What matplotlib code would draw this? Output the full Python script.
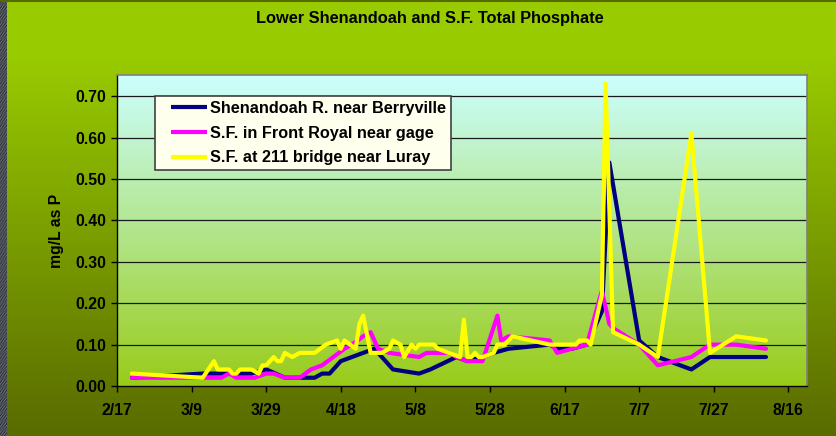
import numpy as np
import matplotlib
matplotlib.use("Agg")
import matplotlib.pyplot as plt
from matplotlib.legend_handler import HandlerLine2D
from datetime import datetime

YEAR = 2006

berry_dates = ["2/21", "3/12", "3/19", "3/22", "3/25", "3/29", "4/3", "4/11", "4/13", "4/15",
               "4/18", "4/21", "4/27", "5/2", "5/9", "5/12", "5/19", "5/22", "5/26", "5/29",
               "6/2", "6/13", "6/15", "6/19", "6/23", "6/27", "6/29", "7/7", "7/12", "7/21",
               "7/26", "8/10"]
berry_vals = [0.02, 0.03, 0.03, 0.03, 0.03, 0.04, 0.02, 0.02, 0.03, 0.03,
              0.06, 0.07, 0.09, 0.04, 0.03, 0.04, 0.07, 0.06, 0.07, 0.08,
              0.09, 0.10, 0.09, 0.09, 0.10, 0.18, 0.54, 0.11, 0.07, 0.04,
              0.07, 0.07]

front_dates = ["2/21", "3/17", "3/19", "3/21", "3/26", "3/29", "3/31", "4/3", "4/7", "4/10",
               "4/13", "4/16", "4/19", "4/21", "4/24", "4/26", "4/28", "5/1", "5/9", "5/11",
               "5/17", "5/19", "5/22", "5/26", "5/30", "5/31", "6/2", "6/13", "6/15", "6/19",
               "6/23", "6/27", "6/29", "6/30", "7/7", "7/12", "7/21", "7/26", "8/2", "8/10"]
front_vals = [0.02, 0.02, 0.03, 0.02, 0.02, 0.03, 0.03, 0.02, 0.02, 0.04,
              0.05, 0.07, 0.09, 0.10, 0.12, 0.13, 0.09, 0.08, 0.07, 0.08,
              0.08, 0.07, 0.06, 0.06, 0.17, 0.11, 0.12, 0.11, 0.08, 0.09,
              0.10, 0.23, 0.15, 0.14, 0.10, 0.05, 0.07, 0.10, 0.10, 0.09]

luray_dates = ["2/21", "3/12", "3/15", "3/16", "3/19", "3/20", "3/21", "3/22", "3/25", "3/27",
               "3/28", "3/29", "3/31", "4/1", "4/2", "4/3", "4/5", "4/7", "4/11", "4/14",
               "4/17", "4/18", "4/19", "4/22", "4/23", "4/24", "4/26", "4/29", "5/1", "5/2",
               "5/4", "5/5", "5/7", "5/8", "5/9", "5/13", "5/14", "5/17", "5/20", "5/21",
               "5/22", "5/23", "5/24", "5/25", "5/26", "5/29", "5/30", "6/1", "6/3", "6/13",
               "6/20", "6/21", "6/23", "6/24", "6/27", "6/28", "6/30", "7/7", "7/12", "7/21",
               "7/26", "8/2", "8/10"]
luray_vals = [0.03, 0.02, 0.06, 0.04, 0.04, 0.03, 0.03, 0.04, 0.04, 0.03,
              0.05, 0.05, 0.07, 0.06, 0.06, 0.08, 0.07, 0.08, 0.08, 0.10,
              0.11, 0.09, 0.11, 0.09, 0.15, 0.17, 0.08, 0.08, 0.09, 0.11,
              0.10, 0.07, 0.10, 0.09, 0.10, 0.10, 0.09, 0.08, 0.07, 0.16,
              0.07, 0.07, 0.08, 0.07, 0.07, 0.08, 0.10, 0.10, 0.12, 0.10,
              0.10, 0.11, 0.11, 0.10, 0.22, 0.73, 0.13, 0.10, 0.07, 0.61,
              0.08, 0.12, 0.11]

series_names = ["Shenandoah R. near Berryville", "S.F. in Front Royal near gage",
                "S.F. at 211 bridge near Luray"]
tick_labels = ["2/17", "3/9", "3/29", "4/18", "5/8", "5/28", "6/17", "7/7", "7/27", "8/16"]
y_ticks = [0.0, 0.1, 0.2, 0.3, 0.4, 0.5, 0.6, 0.7]
x_start, x_end = "2/17", "8/21"
title = "Lower Shenandoah and S.F. Total Phosphate"
ylabel = "mg/L as P"


def to_dt(s):
    m, d = s.split("/")
    return datetime(YEAR, int(m), int(d))


class LeadHandler(HandlerLine2D):
    """Legend line drawn in the right part of the handle box (leading gap on the left)."""
    def __init__(self, lead, **kw):
        super().__init__(**kw)
        self.lead = lead

    def get_xdata(self, legend, xdescent, ydescent, width, height, fontsize):
        x = np.array([-xdescent + self.lead * fontsize, -xdescent + width])
        return x, x


plt.rcParams['font.family'] = ['Liberation Sans', 'DejaVu Sans']
plt.rcParams['font.weight'] = 'bold'

W, H = 837, 436
fig = plt.figure(figsize=(W / 100, H / 100), dpi=100)

# figure background gradient
bg = fig.add_axes([0, 0, 1, 1], zorder=-10)
bg.set_axis_off()
n = 200
t = np.linspace(0, 1, n)
top = np.array([0.60, 0.80, 0.0])
bot = np.array([0.35, 0.42, 0.0])
f = np.clip((t - 0.12) / 0.88, 0, 1)
grad = top[None, :] * (1 - f[:, None]) + bot[None, :] * f[:, None]
bg.imshow(grad[:, None, :], extent=[0, 1, 0, 1], aspect='auto', origin='upper',
          transform=bg.transAxes)
# textured left strip (deterministic pattern)
yy = np.arange(436)
xx = np.arange(7)
pat = 0.32 + 0.15 * np.sin(yy[:, None] * 1.7 + xx[None, :] * 2.3) * np.cos(yy[:, None] * 0.37)
strip = np.stack([pat * 0.9, pat * 0.95, pat * 1.05], axis=-1).clip(0, 1)
bg.imshow(strip, extent=[0, 7 / W, 0, 1], aspect='auto', origin='upper',
          transform=bg.transAxes)
bg.add_line(plt.Line2D([0, 1], [1 - 1 / H, 1 - 1 / H], transform=bg.transAxes,
                       color='#556b00', lw=1.5))
bg.set_xlim(0, 1)
bg.set_ylim(0, 1)

# main axes
left, right, topy, boty = 117, 807, 75.5, 386
ax = fig.add_axes([left / W, 1 - boty / H, (right - left) / W, (boty - topy) / H])
ax.set_facecolor('none')
pa_top = np.array([0.80, 1.0, 1.0])
pa_bot = np.array([0.60, 0.80, 0.10])
t2 = np.linspace(0, 1, 200)
g2 = pa_top[None, :] * (1 - t2[:, None]) + pa_bot[None, :] * t2[:, None]
ax.imshow(g2[:, None, :], extent=[0, 1, 0, 1], aspect='auto', origin='upper',
          transform=ax.transAxes, zorder=0)

for yv in y_ticks[1:]:
    ax.axhline(yv, color='#1a1a1a', lw=0.9, zorder=1)

colors = ['#000080', '#ff00ff', '#ffff00']
data = [(berry_dates, berry_vals), (front_dates, front_vals), (luray_dates, luray_vals)]
lines = []
for (ds, vs), c, name in zip(data, colors, series_names):
    ln, = ax.plot([to_dt(s) for s in ds], vs, color=c, lw=3, label=name, zorder=3,
                  solid_joinstyle='round', solid_capstyle='round')
    lines.append(ln)

ax.set_xlim(to_dt(x_start), to_dt(x_end))
ax.set_ylim(0, 0.75)
ax.set_xticks([to_dt(s) for s in tick_labels])
ax.set_xticklabels(tick_labels)
ax.set_yticks(y_ticks)
ax.set_yticklabels([f"{v:.2f}" for v in y_ticks])
ax.tick_params(axis='both', labelsize=11.3, direction='out', length=4, width=1, color='black')
ax.tick_params(axis='x', pad=8)
ax.tick_params(axis='y', pad=3.5)
for lab in ax.get_xticklabels() + ax.get_yticklabels():
    lab.set_fontweight('bold')

for side in ['left', 'bottom']:
    ax.spines[side].set_color('black')
    ax.spines[side].set_linewidth(1)
for side in ['top', 'right']:
    ax.spines[side].set_color('#808080')
    ax.spines[side].set_linewidth(1.2)

ax.set_ylabel(ylabel, fontsize=11.3, fontweight='bold')
ax.yaxis.set_label_coords(-0.077, 0.5)

leg_fs = 11.7
leg = ax.legend(handles=lines, loc='upper left', bbox_to_anchor=(0.055, 0.934),
                borderaxespad=0, fancybox=False, framealpha=1, facecolor='#ffffee',
                edgecolor='#404040', prop={'size': leg_fs, 'weight': 'bold'},
                handlelength=2.9, handletextpad=0.2, labelspacing=0.6, borderpad=0.3,
                handler_map={l: LeadHandler(0.68) for l in lines})
leg.get_frame().set_linewidth(1.2)
for line in leg.get_lines():
    line.set_linewidth(3)
    line.set_solid_capstyle('butt')
leg.set_zorder(5)

fig.text(430 / W, 1 - 18 / H, title, ha='center', va='center', fontsize=11.8,
         fontweight='bold', color='black')

fig.savefig('out.png', dpi=100)
